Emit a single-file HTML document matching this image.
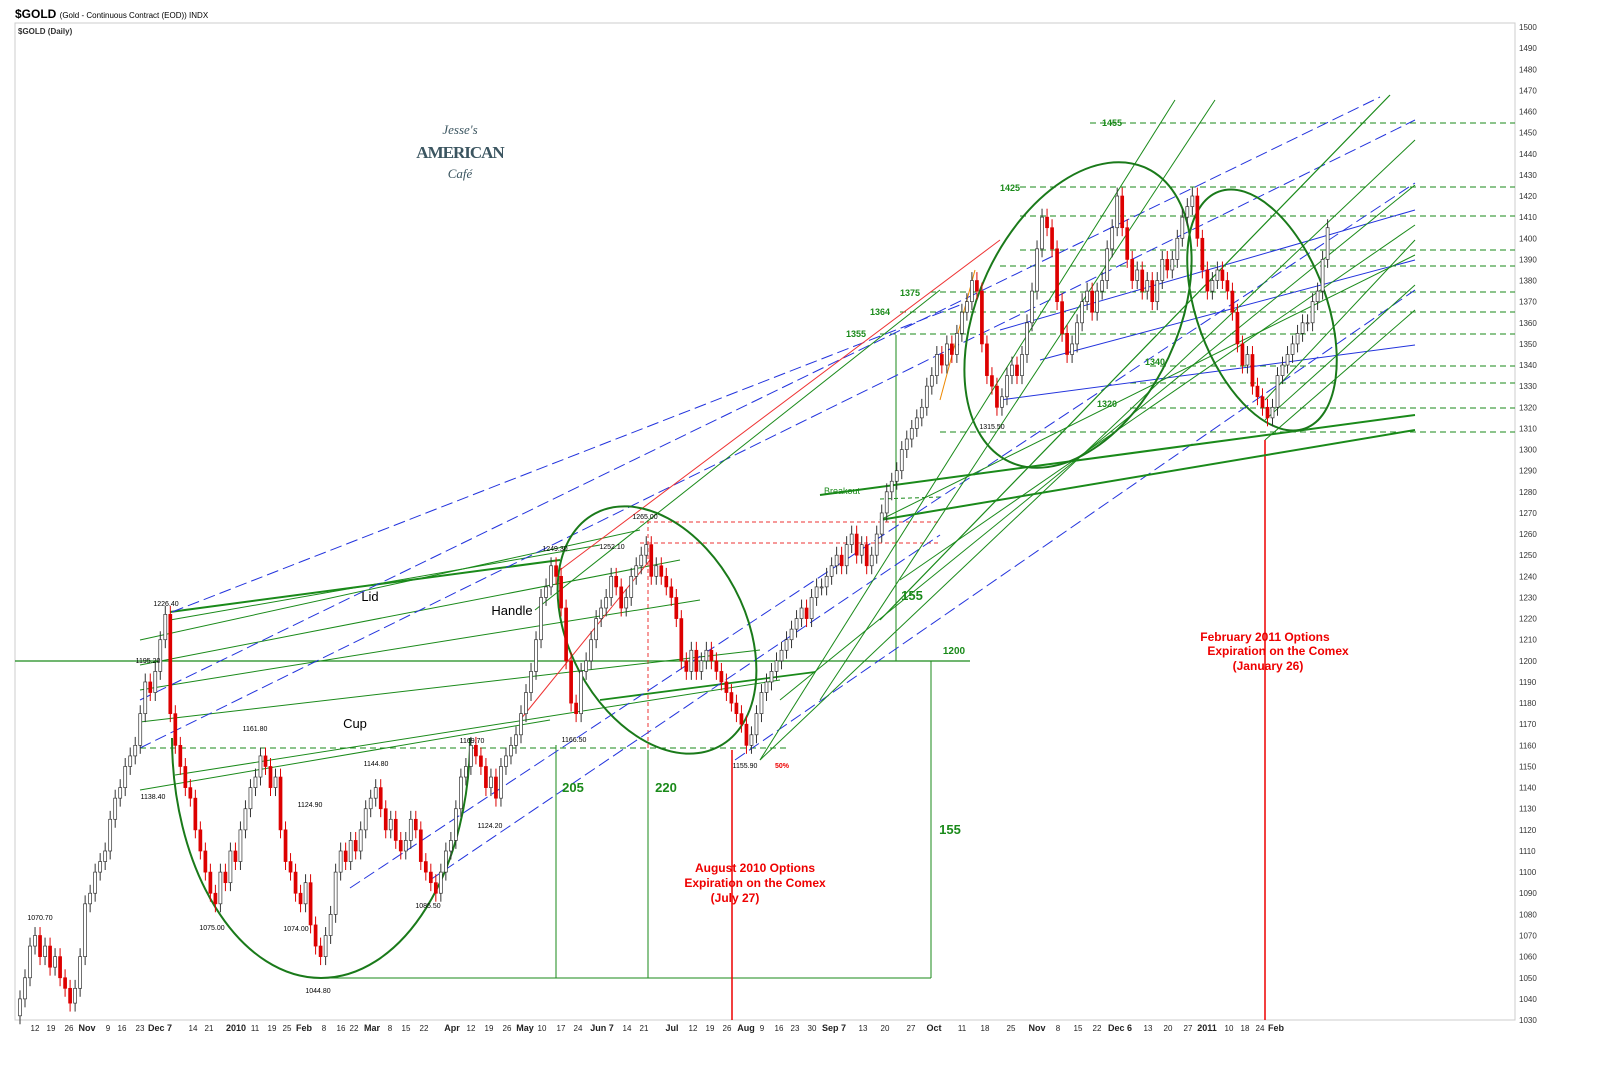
<!DOCTYPE html>
<html><head><meta charset="utf-8"><style>
body{margin:0;background:#fff;font-family:"Liberation Sans",sans-serif}
svg{display:block}
</style></head><body>
<svg id="chart" width="1600" height="1065" viewBox="0 0 1600 1065" xmlns="http://www.w3.org/2000/svg" font-family="Liberation Sans, sans-serif">
<rect width="1600" height="1065" fill="#fff"/>
<text x="15" y="18" font-size="12" font-weight="bold" fill="#000">$GOLD <tspan font-size="8" font-weight="normal">(Gold - Continuous Contract (EOD)) INDX</tspan></text>
<rect x="15" y="23" width="1500" height="997" fill="none" stroke="#ccc"/>
<text x="18" y="34" font-size="8" font-weight="bold" fill="#333">$GOLD (Daily)</text>
<g font-family="Liberation Serif, serif" fill="#3b5560" text-anchor="middle">
<text x="460" y="134" font-size="13" font-style="italic">Jesse's</text>
<text x="460" y="158" font-size="17" font-weight="bold" letter-spacing="-1">AMERICAN</text>
<text x="460" y="178" font-size="13" font-style="italic">Café</text>
</g>
<g id="yaxis"></g>
<g id="xaxis"></g>
<g id="overlays" fill="none"></g>
<g id="candles"></g>
<g id="annot"></g>
</svg>
<script>
const closes=[
1040,1050,1065,1070,1060,1065,1055,1060,1050,1045,
1038,1045,1060,1085,1090,1100,1105,1110,1125,1135,
1140,1150,1155,1160,1175,1190,1185,1195,1210,1222,
1175,1160,1150,1140,1135,1120,1110,1100,1090,1085,
1100,1095,1110,1105,1120,1130,1140,1145,1155,1150,
1140,1145,1120,1105,1100,1090,1085,1095,1075,1065,
1060,1070,1080,1100,1110,1105,1115,1110,1120,1130,
1135,1140,1130,1120,1125,1115,1110,1115,1125,1120,
1105,1100,1095,1090,1100,1110,1115,1130,1145,1150,
1160,1155,1150,1140,1145,1135,1150,1155,1160,1165,
1175,1185,1195,1210,1230,1235,1245,1240,1225,1200,
1180,1175,1195,1200,1210,1220,1225,1230,1240,1235,
1225,1230,1240,1245,1250,1255,1240,1245,1240,1235,
1230,1220,1200,1195,1205,1195,1200,1205,1200,1195,
1190,1185,1180,1175,1170,1160,1165,1175,1185,1190,
1195,1200,1205,1210,1215,1220,1225,1220,1230,1235,
1235,1240,1245,1250,1245,1255,1260,1250,1255,1245,
1250,1260,1270,1280,1285,1290,1300,1305,1310,1315,
1320,1330,1335,1345,1340,1350,1345,1355,1365,1370,
1380,1375,1350,1335,1330,1320,1325,1335,1340,1335,
1345,1360,1375,1395,1410,1405,1395,1370,1355,1345,
1350,1360,1370,1375,1365,1375,1380,1395,1405,1420,
1405,1390,1380,1385,1375,1380,1370,1380,1390,1385,
1390,1400,1410,1415,1420,1400,1385,1375,1380,1385,
1380,1375,1365,1350,1340,1345,1330,1325,1320,1315,
1320,1335,1340,1345,1350,1355,1360,1360,1370,1375,
1390,1405];
const yTicks=[1030,1040,1050,1060,1070,1080,1090,1100,1110,1120,1130,1140,1150,1160,1170,1180,1190,1200,1210,1220,1230,1240,1250,1260,1270,1280,1290,1300,1310,1320,1330,1340,1350,1360,1370,1380,1390,1400,1410,1420,1430,1440,1450,1460,1470,1480,1490,1500];
const xLabels=["12","19","26","Nov","9","16","23","Dec 7","14","21","2010","11","19","25","Feb","8","16","22","Mar","8","15","22","Apr","12","19","26","May","10","17","24","Jun 7","14","21","Jul","12","19","26","Aug","9","16","23","30","Sep 7","13","20","27","Oct","11","18","25","Nov","8","15","22","Dec 6","13","20","27","2011","10","18","24","Feb"];
const xLabelPos=[35,51,69,87,108,122,140,160,193,209,236,255,272,287,304,324,341,354,372,390,406,424,452,471,489,507,525,542,561,578,602,627,644,672,693,710,727,746,762,779,795,812,834,863,885,911,934,962,985,1011,1037,1058,1078,1097,1120,1148,1168,1188,1207,1229,1245,1260,1276];
const bold=new Set(["Nov","Dec 7","2010","Feb","Mar","Apr","May","Jun 7","Jul","Aug","Sep 7","Oct","Dec 6","2011"]);
const NS="http://www.w3.org/2000/svg";
const y=p=>27+(1500-p)*2.1128;
const x=i=>20+i*5.01;
function mk(tag,attrs,parent){const e=document.createElementNS(NS,tag);for(const k in attrs)e.setAttribute(k,attrs[k]);parent.appendChild(e);return e;}
const ya=document.getElementById('yaxis');
yTicks.forEach(t=>{const e=mk('text',{x:1519,y:y(t)+3,'font-size':8,fill:'#333'},ya);e.textContent=t;

});
const xa=document.getElementById('xaxis');
xLabels.forEach((l,i)=>{const e=mk('text',{x:xLabelPos[i],y:1031,'font-size':bold.has(l)?9:8,'font-weight':bold.has(l)?'bold':'normal','text-anchor':'middle',fill:'#222'},xa);e.textContent=l;

});
const cg=document.getElementById('candles');
closes.forEach((c,i)=>{const o=i?closes[i-1]:c-8;const hi=Math.max(o,c)+4,lo=Math.min(o,c)-4;const up=c>=o;const col=up?'#333':'#d00';
const cx=x(i);
const w=mk('line',{x1:cx,x2:cx,y1:y(hi),y2:y(lo),stroke:col,'stroke-width':1},cg);


const b=mk('rect',{x:cx-1.5,y:y(Math.max(o,c)),width:3,height:Math.max(1,Math.abs(y(o)-y(c))),fill:up?'#fff':'#d00',stroke:col,'stroke-width':0.7},cg);

});
const ov=document.getElementById('overlays');
const G='#1a8a1a',B='#2233dd';
const lines=[
[15,661,970,661,G,1.2,''],[140,748,790,748,G,1,'6,4'],[318,978,931,978,G,1,''],
[1090,123,1515,123,G,1,'6,4'],[1020,187,1515,187,G,1,'6,4'],[1020,216,1515,216,G,1,'6,4'],[1020,250,1515,250,G,1,'6,4'],[1000,266,1515,266,G,1,'6,4'],
[930,292,1515,292,G,1,'6,4'],[900,312,1515,312,G,1,'6,4'],[880,334,1515,334,G,1,'6,4'],[1150,366,1515,366,G,1,'6,4'],[1130,383,1515,383,G,1,'6,4'],[1130,408,1515,408,G,1,'6,4'],[940,432,1515,432,G,1,'6,4'],
[880,499,940,497,G,1,'4,3'],[640,522,940,522,'#e33',1,'4,3'],[640,543,940,543,'#e33',1,'4,3'],
[556,745,556,978,G,1,''],[648,750,648,978,G,1,''],[931,661,931,978,G,1,''],[896,335,896,661,G,1,''],
[732,750,732,1020,'#e00',1.5,''],[1265,440,1265,1020,'#e00',1.5,''],[648,520,648,750,'#e33',1,'4,3'],
[170,612,560,560,G,2,''],[170,620,600,545,G,1,''],[140,640,640,530,G,1,''],[140,665,680,560,G,1,''],[140,690,700,600,G,1,''],[140,722,760,650,G,1,''],[175,775,780,680,G,1,''],[140,790,550,720,G,1,''],
[600,700,815,672,G,1.8,''],
[172,612,960,305,B,1,'12,5'],[140,700,1380,97,B,1,'12,5'],[140,748,1415,120,B,1,'12,5'],[350,888,1415,183,B,1,'12,5'],[430,880,940,535,B,1,'12,5'],[735,760,1415,290,B,1,'12,5'],[1000,400,1415,345,B,1,''],[1040,360,1415,260,B,1,''],[1000,330,1415,210,B,1,''],
[760,760,1175,100,G,1,''],[820,700,1215,100,G,1,''],[880,620,1390,95,G,1.2,''],[760,760,1415,140,G,1,''],[780,700,1415,185,G,1,''],[900,580,1415,225,G,1,''],[880,520,1415,255,G,1,''],
[820,495,1415,415,G,2,''],[880,520,1415,430,G,2,''],[1265,440,1415,310,G,1,''],[1265,420,1415,285,G,1,''],[1265,400,1415,240,G,1,''],
[535,610,940,290,G,1,''],[560,570,1000,240,'#e33',1,''],[520,720,650,560,'#e33',1,''],[940,400,975,270,'#e80',1,'']
];
lines.forEach(l=>{const e=mk('line',{x1:l[0],y1:l[1],x2:l[2],y2:l[3],stroke:l[4],'stroke-width':l[5]},ov);if(l[6])e.setAttribute('stroke-dasharray',l[6]);

});
const cup=mk('path',{d:'M172,738 A149 240 0 0 0 470,738',stroke:'#1a7a1a','stroke-width':2},ov);


const ells=[[657,630,88,132,-28],[1078,315,100,162,25],[1262,310,65,126,-20]];
ells.forEach(el=>{const e=mk('ellipse',{cx:el[0],cy:el[1],rx:el[2],ry:el[3],transform:`rotate(${el[4]} ${el[0]} ${el[1]})`,stroke:'#1a7a1a','stroke-width':2},ov);

});
const an=document.getElementById('annot');
const texts=[[1112,126,'1455',G,9,'bold'],[1010,191,'1425',G,9,'bold'],[910,296,'1375',G,9,'bold'],[880,315,'1364',G,9,'bold'],[856,337,'1355',G,9,'bold'],[1155,365,'1340',G,9,'bold'],[1107,407,'1320',G,9,'bold'],[842,494,'Breakout',G,9,'normal'],
[954,654,'1200',G,10,'bold'],[912,600,'155',G,13,'bold'],[950,834,'155',G,13,'bold'],[573,792,'205',G,13,'bold'],[666,792,'220',G,13,'bold'],
[370,601,'Lid','#000',13,'normal'],[512,615,'Handle','#000',13,'normal'],[355,728,'Cup','#000',13,'normal'],
[166,606,'1226.40','#000',7,'normal'],[148,663,'1195.20','#000',7,'normal'],[153,799,'1138.40','#000',7,'normal'],[255,731,'1161.80','#000',7,'normal'],[310,807,'1124.90','#000',7,'normal'],[376,766,'1144.80','#000',7,'normal'],[472,743,'1169.70','#000',7,'normal'],[490,828,'1124.20','#000',7,'normal'],[428,908,'1085.50','#000',7,'normal'],[212,930,'1075.00','#000',7,'normal'],[296,931,'1074.00','#000',7,'normal'],[318,993,'1044.80','#000',7,'normal'],[40,920,'1070.70','#000',7,'normal'],[555,551,'1249.30','#000',7,'normal'],[612,549,'1252.10','#000',7,'normal'],[645,519,'1265.00','#000',7,'normal'],[574,742,'1166.50','#000',7,'normal'],[745,768,'1155.90','#000',7,'normal'],[782,768,'50%','#e00',7,'bold'],[992,429,'1315.50','#000',7,'normal'],
[755,872,'August 2010 Options','#e00',12,'bold'],[755,887,'Expiration on the Comex','#e00',12,'bold'],[735,902,'(July 27)','#e00',12,'bold'],
[1265,641,'February 2011 Options','#e00',12,'bold'],[1278,655,'Expiration on the Comex','#e00',12,'bold'],[1268,670,'(January 26)','#e00',12,'bold']];
texts.forEach(t=>{const e=mk('text',{x:t[0],y:t[1],fill:t[3],'font-size':t[4],'font-weight':t[5],'text-anchor':'middle'},an);e.textContent=t[2];

});
</script>
</body></html>
